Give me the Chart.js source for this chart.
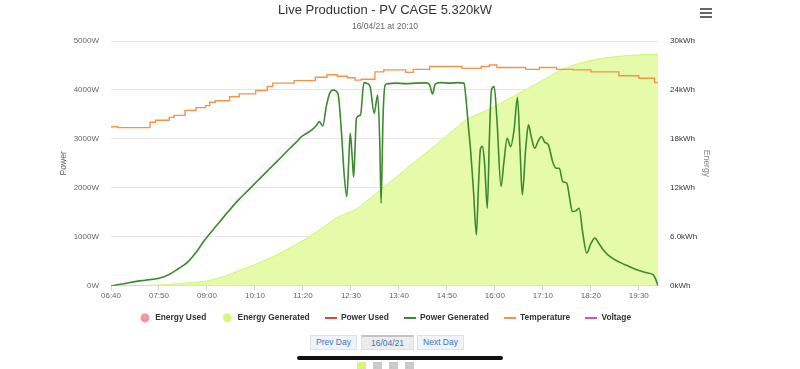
<!DOCTYPE html>
<html>
<head>
<meta charset="utf-8">
<title>Live Production</title>
<script src="https://cdn.jsdelivr.net/npm/chart.js@4.4.1/dist/chart.umd.min.js"></script>
<style>
  body { margin: 0; background: #fff; font-family: 'Liberation Sans', Arial, sans-serif; }
  #wrap { position: relative; width: 800px; height: 369px; overflow: hidden; }
  #chart { position: absolute; left: 0; top: 0; }
  .menu { position: absolute; left: 700px; width: 12px; height: 2px; background: #666; }
  .btn { position: absolute; top: 335px; height: 15px; box-sizing: border-box; border: 1px solid #dde2e8;
         background: #f0f3f7; color: #3a76bd; font-size: 8.5px; line-height: 13px; text-align: center; }
  .btn.cur { background: #ececec; border-top: 2px solid #c4c4c4; line-height: 12px; color: #3a76bd; }
  .bar { position: absolute; left: 297px; top: 356px; width: 206px; height: 4px; border-radius: 2px; background: #111; }
  .dot { position: absolute; top: 362px; width: 9px; height: 7px; background: #c9c9c9; }
</style>
</head>
<body>
<div id="wrap">
  <canvas id="chart" width="800" height="333"></canvas>
  <div class="menu" style="top:8px"></div>
  <div class="menu" style="top:12px"></div>
  <div class="menu" style="top:16px"></div>
  <div class="btn" style="left:310px;width:47px">Prev Day</div>
  <div class="btn cur" style="left:361px;width:53px">16/04/21</div>
  <div class="btn" style="left:417px;width:47px">Next Day</div>
  <div class="bar"></div>
  <div class="dot" style="left:357px;background:#d6f57c"></div>
  <div class="dot" style="left:373px"></div>
  <div class="dot" style="left:389px"></div>
  <div class="dot" style="left:405px"></div>
</div>
<script>
// axis labels
var xTickLabels = ['06:40', '07:50', '09:00', '10:10', '11:20', '12:30', '13:40', '14:50', '16:00', '17:10', '18:20', '19:30'];
var powerTickLabels = ['0W', '1000W', '2000W', '3000W', '4000W', '5000W'];
var energyTickLabels = ['0kWh', '6.0kWh', '12kWh', '18kWh', '24kWh', '30kWh'];

// power generated (W)
var genTimes = ['06:40', '06:50', '07:00', '07:15', '07:30', '07:50', '08:04', '08:15', '08:25', '08:33', '08:45', '08:57',
    '09:14', '09:30', '09:45', '10:00', '10:12', '10:25', '10:37', '10:50', '11:01', '11:10', '11:18', '11:25', '11:33',
    '11:40', '11:44', '11:49', '11:54', '11:59', '12:04', '12:11', '12:16', '12:20', '12:24', '12:27', '12:29', '12:32',
    '12:34', '12:36', '12:38', '12:44', '12:49', '12:54', '12:58', '13:04', '13:09', '13:12', '13:14', '13:17', '13:20',
    '13:25', '13:35', '13:50', '14:05', '14:20', '14:25', '14:29', '14:33', '14:40', '14:55', '15:05', '15:15', '15:18',
    '15:21', '15:25', '15:29', '15:33', '15:36', '15:39', '15:42', '15:45', '15:49', '15:52', '15:55', '15:59', '16:03',
    '16:09', '16:13', '16:18', '16:23', '16:28', '16:33', '16:37', '16:40', '16:45', '16:49', '16:53', '16:58', '17:03',
    '17:08', '17:13', '17:18', '17:25', '17:30', '17:34', '17:39', '17:45', '17:49', '17:53', '17:58', '18:03', '18:08',
    '18:14', '18:20', '18:26', '18:32', '18:38', '18:45', '18:55', '19:10', '19:27', '19:40', '19:51', '19:55', '19:58'];
var genPower = [0, 20, 45, 85, 115, 155, 225, 320, 410, 500, 700, 940,
    1230, 1500, 1740, 1950, 2120, 2300, 2469, 2650, 2810, 2930, 3048, 3110, 3184,
    3280, 3354, 3265, 3660, 3930, 4000, 3930, 3184, 2300, 1823, 2600, 3116, 2600,
    2218, 2800, 3422, 3490, 4150, 4130, 4068, 3524, 3898, 3000, 1687, 3500, 4102,
    4130, 4140, 4130, 4140, 4145, 4100, 3918, 4120, 4150, 4140, 4150, 4140, 3800,
    3320, 2700, 1900, 1041, 2000, 2800, 2850, 2500, 1585, 3000, 4000, 4068, 3400,
    2027, 2500, 3014, 2843, 3184, 3850, 2700, 1857, 2800, 3286, 3050, 2810, 2950,
    3048, 2930, 2878, 2503, 2400, 2401, 2129, 2095, 1800, 1517, 1530, 1585, 1100,
    667, 860, 973, 860, 735, 630, 531, 430, 327, 270, 224, 120, 0];

// energy generated (kWh)
var energyTimes = ['06:40', '07:30', '08:00', '08:30', '09:00', '09:30', '09:48', '10:10', '10:37', '11:00', '11:25', '11:50',
    '12:11', '12:25', '12:38', '12:49', '13:05', '13:30', '14:00', '14:30', '15:00', '15:21', '15:40', '16:00', '16:22',
    '16:49', '17:10', '17:39', '18:09', '18:48', '19:20', '19:58'];
var energyValues = [0, 0.05, 0.15, 0.35, 0.6, 1.3, 1.9, 2.6, 3.6, 4.6, 5.8, 7.2,
    8.4, 8.9, 9.4, 10.1, 11.2, 12.9, 15.0, 17.0, 19.1, 20.5, 21.2, 22.0, 23.0,
    24.2, 25.2, 26.5, 27.4, 28.0, 28.25, 28.4];

// temperature (C)
var tempTimes = ['06:40', '06:50', '07:37', '07:45', '08:05', '08:12', '08:28', '08:44', '08:58', '09:04', '09:12', '09:33',
    '09:47', '10:11', '10:28', '10:36', '11:07', '11:38', '11:55', '12:10', '12:25', '12:36', '12:45', '13:05', '13:18',
    '13:50', '14:01', '14:25', '15:12', '15:40', '15:52', '16:03', '16:45', '17:05', '17:30', '17:55', '18:20', '19:01',
    '19:30', '19:53', '19:58'];
var tempValues = [32.5, 32.3, 33.4, 33.8, 34.4, 34.8, 35.8, 36.4, 36.8, 37.5, 37.8, 38.6,
    39.2, 39.9, 40.7, 41.4, 41.9, 42.6, 43.1, 42.8, 42.5, 42.0, 42.2, 43.7, 44.1,
    43.6, 44.2, 44.8, 44.4, 44.8, 45.1, 44.6, 44.2, 44.6, 44.2, 44.1, 43.7, 42.9,
    42.4, 41.5, 41.3];

function toMin(t) {
    var p = t.split(':');
    return parseInt(p[0]) * 60 + parseInt(p[1]);
}
function toPoints(times, values) {
    return times.map(function (t, i) { return { x: toMin(t), y: values[i] }; });
}

// little canvases for the legend markers
function circleMarker(color) {
    var c = document.createElement('canvas');
    c.width = 10; c.height = 10;
    var ctx = c.getContext('2d');
    ctx.fillStyle = color;
    ctx.beginPath();
    ctx.arc(5, 5, 4.5, 0, Math.PI * 2);
    ctx.fill();
    return c;
}
function lineMarker(color) {
    var c = document.createElement('canvas');
    c.width = 12; c.height = 2;
    var ctx = c.getContext('2d');
    ctx.fillStyle = color;
    ctx.fillRect(0, 0, 12, 2);
    return c;
}

var fontFam = "'Liberation Sans', Arial, sans-serif";
Chart.defaults.font.family = fontFam;

var markers = [
    circleMarker('#f2969f'),
    circleMarker('#d8f67e'),
    lineMarker('#e8413a'),
    lineMarker('#3c8a2f'),
    lineMarker('#f39449'),
    lineMarker('#d94fc0')
];

var data = {
    datasets: [{
        label: 'Energy Used',
        data: [],
        yAxisID: 'y2',
        borderColor: '#f2969f',
        backgroundColor: '#f2969f'
    }, {
        label: 'Energy Generated',
        data: toPoints(energyTimes, energyValues),
        yAxisID: 'y2',
        borderColor: '#d2f26e',
        backgroundColor: '#e6fbaa',
        borderWidth: 1,
        fill: 'origin',
        cubicInterpolationMode: 'monotone',
        order: 5
    }, {
        label: 'Power Used',
        data: [],
        yAxisID: 'y',
        borderColor: '#e8413a'
    }, {
        label: 'Power Generated',
        data: toPoints(genTimes, genPower),
        yAxisID: 'y',
        borderColor: '#3c8a2f',
        borderWidth: 1.6,
        cubicInterpolationMode: 'monotone'
    }, {
        label: 'Temperature',
        data: toPoints(tempTimes, tempValues),
        yAxisID: 'yT',
        borderColor: '#f39449',
        borderWidth: 1.4,
        stepped: true
    }, {
        label: 'Voltage',
        data: [],
        yAxisID: 'y',
        borderColor: '#d94fc0'
    }]
};

var config = {
    type: 'line',
    data: data,
    options: {
        responsive: false,
        animation: false,
        elements: { point: { radius: 0 } },
        layout: { padding: { left: 58, right: 88, top: 0, bottom: 1 } },
        plugins: {
            tooltip: { enabled: false },
            title: {
                display: true,
                text: 'Live Production - PV CAGE 5.320kW',
                color: '#333',
                font: { size: 13, weight: 'normal' },
                padding: { top: 3, bottom: 1 }
            },
            subtitle: {
                display: true,
                text: '16/04/21 at 20:10',
                color: '#666',
                font: { size: 8.5 },
                padding: { top: 2.3, bottom: 8.9 }
            },
            legend: {
                position: 'bottom',
                labels: {
                    usePointStyle: true,
                    pointStyleWidth: 12,
                    padding: 15,
                    color: '#333',
                    font: { size: 8.4, weight: 'bold' },
                    sort: function (a, b) { return a.datasetIndex - b.datasetIndex; },
                    generateLabels: function (chart) {
                        var items = Chart.defaults.plugins.legend.labels.generateLabels(chart);
                        items.forEach(function (it) { it.pointStyle = markers[it.datasetIndex]; });
                        return items;
                    }
                }
            }
        },
        scales: {
            x: {
                type: 'linear',
                min: toMin('06:40'),
                max: toMin('19:58'),
                afterBuildTicks: function (scale) {
                    scale.ticks = xTickLabels.map(function (t) { return { value: toMin(t) }; });
                },
                afterFit: function (scale) { scale.height = 12.8; },
                ticks: {
                    color: '#666',
                    font: { size: 8 },
                    padding: 0,
                    maxRotation: 0,
                    autoSkip: false,
                    callback: function (v, i) { return xTickLabels[i]; }
                },
                grid: { drawOnChartArea: false, drawTicks: true, tickLength: 5, color: '#ccd6eb' },
                border: { display: true, color: '#ccd6eb' }
            },
            y: {
                position: 'left',
                min: 0,
                max: 5000,
                ticks: {
                    stepSize: 1000,
                    color: '#666',
                    font: { size: 8 },
                    padding: 12,
                    callback: function (v, i) { return powerTickLabels[i]; }
                },
                afterFit: function (scale) { scale.width = 53; },
                title: { display: true, text: 'Power', color: '#666', font: { size: 8.6 }, padding: 0 },
                grid: { color: '#e6e6e6', drawTicks: false },
                border: { display: false }
            },
            y2: {
                position: 'right',
                min: 0,
                max: 30,
                ticks: {
                    stepSize: 6,
                    color: '#333',
                    font: { size: 8 },
                    padding: 12,
                    callback: function (v, i) { return energyTickLabels[i]; }
                },
                afterFit: function (scale) { scale.width = 54; },
                title: { display: true, text: 'Energy', color: '#888', font: { size: 8.6 }, padding: 0 },
                grid: { display: false, drawTicks: false },
                border: { display: false }
            },
            yT: {
                display: false,
                min: 0,
                max: 50
            }
        }
    }
};

var myChart = new Chart(document.getElementById('chart'), config);
</script>
</body>
</html>
